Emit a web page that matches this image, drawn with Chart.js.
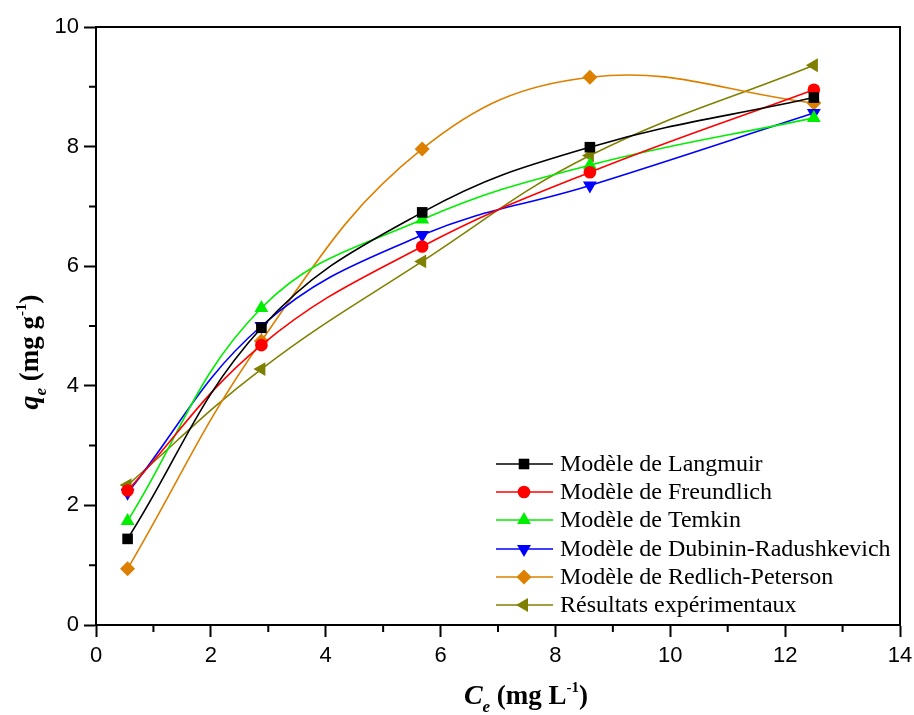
<!DOCTYPE html>
<html>
<head>
<meta charset="utf-8">
<script src="https://cdn.jsdelivr.net/npm/chart.js@4/dist/chart.umd.min.js"></script>
<style>
html,body{margin:0;padding:0;background:#fff;}
#wrap{width:914px;height:715px;position:relative;}
</style>
</head>
<body>
<div id="wrap"><canvas id="c" width="914" height="715"></canvas></div>
<script>
const ceValues = [0.55, 2.88, 5.68, 8.6, 12.5];
const langmuir = [1.44, 4.97, 6.90, 7.99, 8.82];
const freundlich = [2.25, 4.68, 6.33, 7.57, 8.95];
const temkin = [1.74, 5.30, 6.78, 7.69, 8.48];
const dubinin = [2.21, 5.00, 6.52, 7.35, 8.56];
const redlich = [0.94, 4.75, 7.96, 9.16, 8.73];
const experimental = [2.34, 4.28, 6.08, 7.85, 9.36];
const seriesNames = ["Modèle de Langmuir","Modèle de Freundlich","Modèle de Temkin","Modèle de Dubinin-Radushkevich","Modèle de Redlich-Peterson","Résultats expérimentaux"];
const xTicks = [0,2,4,6,8,10,12,14];
const yTicks = [0,2,4,6,8,10];

const styles = [
  {color:'#000000', pointStyle:'rect', radius:7.5, rotation:0},
  {color:'#FF0000', pointStyle:'circle', radius:6.3, rotation:0},
  {color:'#00EE00', pointStyle:'triangle', radius:8, rotation:0},
  {color:'#0000FF', pointStyle:'triangle', radius:8, rotation:180},
  {color:'#DD8000', pointStyle:'rectRot', radius:7.5, rotation:0},
  {color:'#808000', pointStyle:'triangle', radius:8, rotation:-90}
];
const seriesValues = [langmuir, freundlich, temkin, dubinin, redlich, experimental];

const datasets = seriesValues.map((vals,i)=>({
  label: seriesNames[i],
  data: ceValues.map((x,j)=>({x:x, y:vals[j]})),
  borderColor: styles[i].color,
  backgroundColor: styles[i].color,
  borderWidth: 1.6,
  pointStyle: styles[i].pointStyle,
  pointRadius: styles[i].radius,
  pointRotation: styles[i].rotation,
  pointBorderWidth: 0,
  tension: 0.4,
  fill: false
}));

const framePlugin = {
  id:'frame',
  afterDraw(chart){
    const ctx = chart.ctx, a = chart.chartArea;
    const xs = chart.scales.x, ys = chart.scales.y;
    ctx.save();
    ctx.strokeStyle = '#000'; ctx.lineWidth = 2;
    ctx.beginPath();
    ctx.moveTo(a.left, a.top); ctx.lineTo(a.right, a.top); ctx.lineTo(a.right, a.bottom);
    ctx.stroke();
    ctx.beginPath();
    for (let v=1; v<14; v+=2){ const px = xs.getPixelForValue(v); ctx.moveTo(px, a.bottom); ctx.lineTo(px, a.bottom+7); }
    for (let v=1; v<10; v+=2){ const py = ys.getPixelForValue(v); ctx.moveTo(a.left, py); ctx.lineTo(a.left-7, py); }
    ctx.stroke();

    const rowY = [464, 492, 520, 549, 577, 605];
    ctx.textBaseline = 'middle';
    ctx.font = '24px "Liberation Serif", "Times New Roman", serif';
    datasets.forEach((d,i)=>{
      const y = rowY[i];
      ctx.strokeStyle = styles[i].color; ctx.lineWidth = 1.6;
      ctx.beginPath(); ctx.moveTo(496, y); ctx.lineTo(553, y); ctx.stroke();
      ctx.fillStyle = styles[i].color;
      Chart.helpers.drawPoint(ctx, {pointStyle: styles[i].pointStyle, radius: styles[i].radius, rotation: styles[i].rotation, borderWidth:0}, 524, y);
      ctx.fillStyle = '#000';
      ctx.fillText(d.label, 560, y+1);
    });

    function drawParts(parts, cx, cy, rotate){
      ctx.save();
      ctx.translate(cx, cy);
      if (rotate) ctx.rotate(-Math.PI/2);
      ctx.textBaseline = 'alphabetic';
      ctx.fillStyle = '#000';
      let total = 0;
      parts.forEach(p=>{ ctx.font = p.font; p.w = ctx.measureText(p.t).width; total += p.w; });
      let x = -total/2;
      parts.forEach(p=>{ ctx.font = p.font; ctx.fillText(p.t, x, p.dy); x += p.w; });
      ctx.restore();
    }
    const serif = '"Liberation Serif", "Times New Roman", serif';
    drawParts([
      {t:'C', font:'italic bold 28px '+serif, dy:0},
      {t:'e', font:'italic bold 17px '+serif, dy:8},
      {t:' (mg L', font:'bold 27px '+serif, dy:0},
      {t:'-1', font:'bold 15px '+serif, dy:-12},
      {t:')', font:'bold 27px '+serif, dy:0}
    ], 526, 704, false);
    drawParts([
      {t:'q', font:'italic bold 28px '+serif, dy:0},
      {t:'e', font:'italic bold 17px '+serif, dy:8},
      {t:' (mg g', font:'bold 27px '+serif, dy:0},
      {t:'-1', font:'bold 15px '+serif, dy:-12},
      {t:')', font:'bold 27px '+serif, dy:0}
    ], 38, 352, true);
    ctx.restore();
  }
};

new Chart(document.getElementById('c'), {
  type:'line',
  data:{datasets:datasets},
  plugins:[framePlugin],
  options:{
    responsive:false,
    animation:false,
    layout:{padding:{top:27, right:14, left:0, bottom:0}},
    plugins:{legend:{display:false}, tooltip:{enabled:false}},
    scales:{
      x:{
        type:'linear', min:0, max:14,
        afterFit(s){ s.height = 90; s.paddingRight = 0; s.paddingLeft = 0; },
        afterBuildTicks(s){ s.ticks = xTicks.map(v=>({value:v})); },
        border:{display:true, color:'#000', width:2},
        grid:{drawOnChartArea:false, drawTicks:true, tickLength:12, tickColor:'#000', tickWidth:2},
        ticks:{color:'#000', padding:6, font:{family:'"Liberation Sans", Arial, sans-serif', size:22}, maxRotation:0, autoSkip:false}
      },
      y:{
        type:'linear', min:0, max:10,
        afterFit(s){ s.width = 96; s.paddingTop = 0; s.paddingBottom = 0; },
        afterBuildTicks(s){ s.ticks = yTicks.map(v=>({value:v})); },
        border:{display:true, color:'#000', width:2},
        grid:{drawOnChartArea:false, drawTicks:true, tickLength:12, tickColor:'#000', tickWidth:2},
        ticks:{color:'#000', padding:5, font:{family:'"Liberation Sans", Arial, sans-serif', size:22}, autoSkip:false}
      }
    }
  }
});
</script>
</body>
</html>
